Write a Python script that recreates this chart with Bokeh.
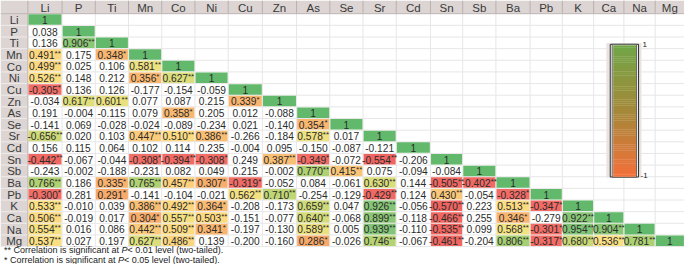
from bokeh.plotting import figure
from bokeh.models import Range1d
from bokeh.core.properties import value
from bokeh.embed import file_html
from bokeh.resources import INLINE

# ---------------- data ----------------
elements = ["Li", "P", "Ti", "Mn", "Co", "Ni", "Cu", "Zn", "As", "Se",
            "Sr", "Cd", "Sn", "Sb", "Ba", "Pb", "K", "Ca", "Na", "Mg"]

row_Li = ["1"]
row_P = ["0.038", "1"]
row_Ti = ["0.136", "0.906**", "1"]
row_Mn = ["0.491**", "0.175", "0.348*", "1"]
row_Co = ["0.499**", "0.025", "0.106", "0.581**", "1"]
row_Ni = ["0.526**", "0.148", "0.212", "0.356*", "0.627**", "1"]
row_Cu = ["-0.305*", "0.136", "0.126", "-0.177", "-0.154", "-0.059", "1"]
row_Zn = ["-0.034", "0.617**", "0.601**", "0.077", "0.087", "0.215", "0.339*", "1"]
row_As = ["0.191", "-0.004", "-0.115", "0.079", "0.358*", "0.205", "0.012", "-0.088", "1"]
row_Se = ["-0.141", "0.069", "-0.028", "-0.024", "-0.089", "-0.234", "0.021", "-0.140", "0.354*", "1"]
row_Sr = ["-0.656**", "0.020", "0.103", "0.447**", "0.510**", "0.386**", "-0.266", "-0.184",
          "0.578**", "0.017", "1"]
row_Cd = ["0.156", "0.115", "0.064", "0.102", "0.114", "0.235", "-0.004", "0.095", "-0.150",
          "-0.087", "-0.121", "1"]
row_Sn = ["-0.442**", "-0.067", "-0.044", "-0.308*", "-0.394**", "-0.308*", "0.249", "0.387**",
          "-0.349*", "-0.072", "-0.554**", "-0.206", "1"]
row_Sb = ["-0.243", "-0.002", "-0.188", "-0.231", "0.082", "0.049", "0.215", "-0.002", "0.770**",
          "0.415**", "0.075", "-0.094", "-0.084", "1"]
row_Ba = ["0.766**", "0.186", "0.335*", "0.765**", "0.457**", "0.307*", "-0.319*", "-0.052",
          "0.084", "-0.061", "0.630**", "0.144", "-0.505**", "-0.402**", "1"]
row_Pb = ["-0.300*", "0.281", "0.291*", "-0.141", "-0.104", "-0.021", "0.562**", "0.710**",
          "-0.254", "-0.129", "-0.429**", "0.124", "0.430**", "-0.054", "-0.328*", "1"]
row_K = ["0.533**", "-0.010", "0.039", "0.386**", "0.492**", "0.364*", "-0.208", "-0.173",
         "0.659**", "0.047", "0.926**", "-0.056", "-0.570**", "0.223", "0.513**", "-0.347*", "1"]
row_Ca = ["0.506**", "-0.019", "0.017", "0.304*", "0.557**", "0.503**", "-0.151", "-0.077",
          "0.640**", "-0.068", "0.899**", "-0.118", "-0.466**", "0.255", "0.346*", "-0.279",
          "0.922**", "1"]
row_Na = ["0.554**", "0.016", "0.086", "0.442**", "0.509**", "0.341*", "-0.197", "-0.130",
          "0.589**", "0.005", "0.939**", "-0.110", "-0.535**", "0.099", "0.568**", "-0.301*",
          "0.954**", "0.904**", "1"]
row_Mg = ["0.537**", "0.027", "0.197", "0.627**", "0.486**", "0.139", "-0.200", "-0.160",
          "0.286*", "-0.026", "0.746**", "-0.067", "-0.461**", "-0.204", "0.806**", "-0.317*",
          "0.680**", "0.536**", "0.781**", "1"]

rows = [row_Li, row_P, row_Ti, row_Mn, row_Co, row_Ni, row_Cu, row_Zn, row_As, row_Se,
        row_Sr, row_Cd, row_Sn, row_Sb, row_Ba, row_Pb, row_K, row_Ca, row_Na, row_Mg]

legend_labels = ["1", "-1"]
note1 = ["** Correlation is significant at ", "P", " < 0.01 level (two-tailed)."]
note2 = ["* Correlation is significant at ", "P", " < 0.05 level (two-tailed)."]

# ---------------- layout (reference pixel units) ----------------
REF_W, REF_H = 700, 280
W, H = 684, 264
SX, SY = W / REF_W, H / REF_H
col_edges = [28, 63, 97, 131, 165, 199, 233, 268, 303, 337, 371, 405, 440, 473, 507, 542,
             575, 607, 638, 670, 700]
HEAD_H = 14
ROW_H = 12.35
FONT = "Liberation Sans"
NUM_PX = 10.2
STAR_PX = 8.0
TXT = "#2b2b2b"
abs_colour_cells = [("Sr", "Li")]   # cell coloured by magnitude in the original


def row_top(i):
    return HEAD_H + i * ROW_H


CW = {" ": 278, "*": 389, "-": 333, ".": 278, "<": 584, "(": 333, ")": 333, "P": 667, "C": 722,
      "s": 500, "c": 500, "w": 722, "r": 333, "t": 278, "f": 278, "i": 222, "l": 222}
for ch in "0123456789aegnodv":
    CW[ch] = 556


def text_w(s, px):
    return sum(CW.get(c, 556) for c in s) * px / 1000.0


def hex2rgb(h):
    h = h.lstrip("#")
    return tuple(int(h[k:k + 2], 16) for k in (0, 2, 4))


def rgb2hex(c):
    return "#%02x%02x%02x" % tuple(int(round(v)) for v in c)


def interp(stops, v):
    if v <= stops[0][0]:
        return stops[0][1]
    for (a, ca), (b, cb) in zip(stops[:-1], stops[1:]):
        if a <= v <= b:
            t = (v - a) / (b - a)
            A, B = hex2rgb(ca), hex2rgb(cb)
            return rgb2hex([A[k] + (B[k] - A[k]) * t for k in range(3)])
    return stops[-1][1]


cell_stops = [(-0.7, "#ee5f5c"), (-0.3, "#f26d66"), (0.28, "#f7a868"), (0.35, "#f9b66f"),
              (0.45, "#fccd7b"), (0.53, "#fde083"), (0.6, "#e8e17e"), (0.65, "#d0db78"),
              (0.77, "#afd172"), (0.9, "#8dc775"), (0.95, "#80c377"), (1.0, "#62b96b")]

# ---------------- figure ----------------
p = figure(width=W, height=H, x_range=Range1d(0, REF_W), y_range=Range1d(REF_H, 0),
           output_backend="svg", toolbar_location=None, min_border=0,
           x_axis_location=None, y_axis_location=None, outline_line_color=None)
p.grid.visible = False
p.background_fill_color = "white"
p.border_fill_color = "white"

n = len(elements)
tbl_bottom = row_top(n)

# header & row-label backgrounds
p.quad(left=[0], right=[REF_W], top=[0], bottom=[HEAD_H], fill_color="#dcd5d3", line_color=None)
p.quad(left=[0], right=[col_edges[0]], top=[HEAD_H], bottom=[tbl_bottom],
       fill_color="#dcd5d3", line_color=None)

# grid lines
hy = [row_top(i) for i in range(1, n + 1)]
p.segment(x0=[col_edges[0]] * len(hy), x1=[REF_W] * len(hy), y0=hy, y1=hy,
          line_color="#e8e6e6", line_width=1)
p.segment(x0=col_edges[1:], x1=col_edges[1:], y0=[HEAD_H] * (len(col_edges) - 1),
          y1=[tbl_bottom] * (len(col_edges) - 1), line_color="#e8e6e6", line_width=1)
p.segment(x0=col_edges, x1=col_edges, y0=[0] * len(col_edges), y1=[HEAD_H] * len(col_edges),
          line_color="#b9b1af", line_width=1)
p.segment(x0=[0], x1=[REF_W], y0=[HEAD_H], y1=[HEAD_H], line_color="#bdb5b3", line_width=1)
p.segment(x0=[0] * n, x1=[col_edges[0]] * n, y0=hy, y1=hy, line_color="#efebea", line_width=1)
p.segment(x0=[col_edges[0]], x1=[col_edges[0]], y0=[HEAD_H], y1=[tbl_bottom],
          line_color="#bdb5b3", line_width=1)

# cells
cl, cr, ct, cb, cc = [], [], [], [], []
nx, ny, ntxt, sx, sy, stxt = [], [], [], [], [], []
for i, row in enumerate(rows):
    for j, s in enumerate(row):
        stars = s.count("*")
        num = s.rstrip("*")
        v = float(num)
        xc = (col_edges[j] + col_edges[j + 1]) / 2
        yc = row_top(i) + ROW_H / 2
        if stars > 0 or i == j:
            vv = abs(v) if (elements[i], elements[j]) in abs_colour_cells else v
            cl.append(col_edges[j] + 0.6)
            cr.append(col_edges[j + 1] - 0.6)
            ct.append(row_top(i) + 0.6)
            cb.append(row_top(i + 1) - 0.6)
            cc.append(interp(cell_stops, vv))
        wn = text_w(num, NUM_PX)
        ws = text_w("*" * stars, STAR_PX)
        x0 = xc - (wn + ws) / 2 / SX
        nx.append(x0)
        ny.append(yc + 0.4)
        ntxt.append(num)
        if stars:
            sx.append(x0 + wn / SX)
            sy.append(yc - 1.4 / SY)
            stxt.append("*" * stars)

p.quad(left=cl, right=cr, top=ct, bottom=cb, fill_color=cc, line_color=None)
p.text(x=nx, y=ny, text=ntxt, text_font=value(FONT), text_font_size=value(f"{NUM_PX}px"),
       text_align="left", text_baseline="middle", text_color=TXT)
p.text(x=sx, y=sy, text=stxt, text_font=value(FONT), text_font_size=value(f"{STAR_PX}px"),
       text_align="left", text_baseline="middle", text_color=TXT)

# header labels and row labels
hx = [(col_edges[j] + col_edges[j + 1]) / 2 for j in range(n)]
p.text(x=hx, y=[HEAD_H / 2 + 0.5] * n, text=elements, text_font=value(FONT),
       text_font_size=value("11.5px"), text_align="center", text_baseline="middle",
       text_color="#3a3a3a")
p.text(x=[col_edges[0] / 2] * n, y=[row_top(i) + ROW_H / 2 + 0.5 for i in range(n)],
       text=elements, text_font=value(FONT), text_font_size=value("11.5px"),
       text_align="center", text_baseline="middle", text_color="#3a3a3a")

# colour legend
p.quad(left=[620], right=[656], top=[45], bottom=[188], fill_color="#e9e4e2", line_color=None)
p.quad(left=[624], right=[653], top=[46.5], bottom=[187.2], fill_color="white",
       line_color="#2a2a2a", line_width=1)
p.quad(left=[626], right=[651], top=[46.5], bottom=[187.2], fill_color="white",
       line_color="#555555", line_width=1)
g_top, g_bot = 47.5, 186.5
nseg = 70
g_stops = [(0.0, "#70a646"), (0.5, "#a48838"), (1.0, "#f3703a")]
gl, gr, gt, gb, gc = [], [], [], [], []
for k in range(nseg):
    t = (k + 0.5) / nseg
    gl.append(627)
    gr.append(650.5)
    gt.append(g_top + (g_bot - g_top) * k / nseg)
    gb.append(g_top + (g_bot - g_top) * (k + 1) / nseg + 0.3)
    gc.append(interp(g_stops, t))
p.quad(left=gl, right=gr, top=gt, bottom=gb, fill_color=gc, line_color=None)
p.text(x=[657, 655], y=[47, 186], text=legend_labels, text_font=value(FONT),
       text_font_size=value("8px"), text_align="left", text_baseline="middle",
       text_color="#222222")

# footnotes
NOTE_PX = 9.0
for ln, yy in ((note1, 265), (note2, 275.5)):
    x = 3.5
    for k, seg in enumerate(ln):
        p.text(x=[x], y=[yy], text=[seg], text_font=value(FONT),
               text_font_size=value(f"{NOTE_PX}px"),
               text_font_style="italic" if k == 1 else "normal",
               text_align="left", text_baseline="middle", text_color="#222222")
        x += text_w(seg, NOTE_PX) / SX

open("out.html", "w").write(file_html(p, INLINE))
